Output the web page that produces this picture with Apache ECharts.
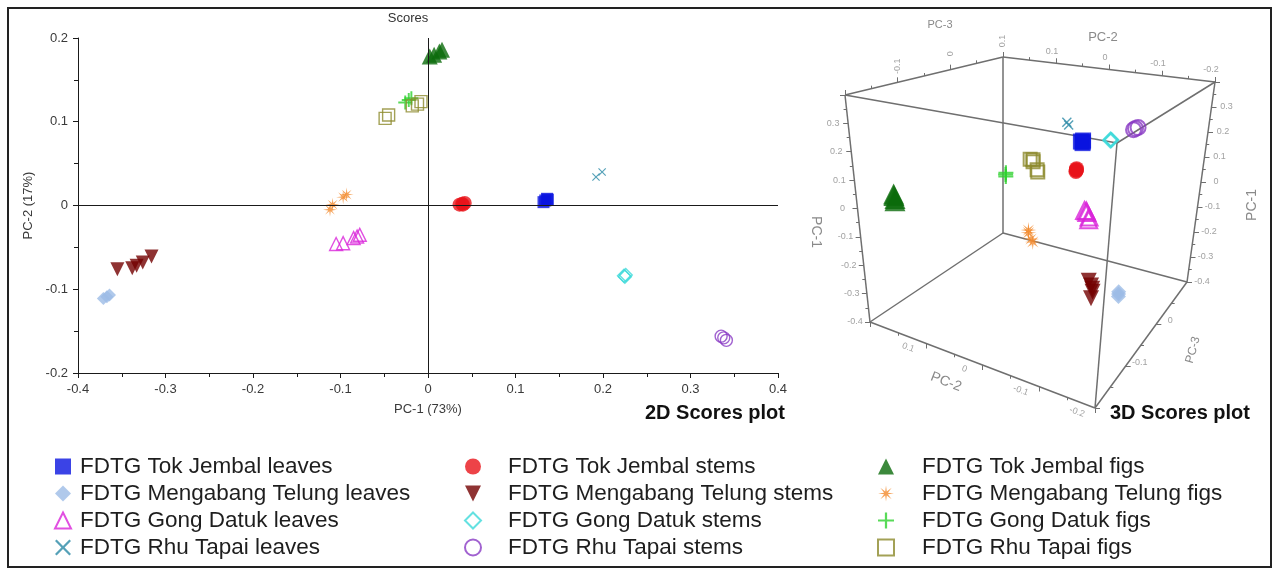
<!DOCTYPE html>
<html>
<head>
<meta charset="utf-8">
<title>2D and 3D scores plots</title>
<script src="https://cdn.jsdelivr.net/npm/echarts@6/dist/echarts.min.js"></script>
<style>
  html, body { margin: 0; padding: 0; background: #fff; }
  #chart { width: 1274px; height: 570px; }
</style>
</head>
<body>
<div id="chart"></div>
<script>
// legend order, column by column
const groupNames = [
  'FDTG Tok Jembal leaves', 'FDTG Mengabang Telung leaves', 'FDTG Gong Datuk leaves', 'FDTG Rhu Tapai leaves',
  'FDTG Tok Jembal stems', 'FDTG Mengabang Telung stems', 'FDTG Gong Datuk stems', 'FDTG Rhu Tapai stems',
  'FDTG Tok Jembal figs', 'FDTG Mengabang Telung figs', 'FDTG Gong Datuk figs', 'FDTG Rhu Tapai figs'
];

// scores of each sample: [PC-1, PC-2, PC-3]
const tjLeaves = [[0.132, 0.004, 0.052], [0.134, 0.006, 0.055], [0.136, 0.008, 0.053], [0.137, 0.007, 0.057]];
const mtLeaves = [[-0.371, -0.111, 0.016], [-0.367, -0.109, 0.019], [-0.364, -0.107, 0.022]];
const gdLeaves = [[-0.105, -0.046, 0.010], [-0.097, -0.045, 0.012], [-0.085, -0.039, 0.014], [-0.081, -0.037, 0.015], [-0.078, -0.035, 0.013]];
const rtLeaves = [[0.192, 0.034, 0.055], [0.199, 0.040, 0.058]];
const tjStems = [[0.036, 0.001, 0.035], [0.039, 0.002, 0.037], [0.042, 0.003, 0.039], [0.040, 0.001, 0.036]];
const mtStems = [[-0.355, -0.076, -0.014], [-0.338, -0.075, -0.009], [-0.333, -0.072, -0.006], [-0.326, -0.068, -0.004], [-0.316, -0.061, -0.001]];
const gdStems = [[0.224, -0.084, -0.003], [0.226, -0.083, -0.001], [0.225, -0.085, -0.002]];
const rtStems = [[0.335, -0.156, -0.062], [0.338, -0.158, -0.060], [0.341, -0.161, -0.058]];
const tjFigs = [[0.002, 0.178, -0.150], [0.007, 0.180, -0.147], [0.013, 0.184, -0.144], [0.016, 0.186, -0.142]];
const mtFigs = [[-0.112, -0.005, -0.078], [-0.109, 0.001, -0.074], [-0.097, 0.010, -0.068], [-0.093, 0.013, -0.064]];
const gdFigs = [[-0.026, 0.123, 0.022], [-0.022, 0.126, 0.025], [-0.019, 0.128, 0.028]];
const rtFigs = [[-0.049, 0.104, 0.072], [-0.045, 0.108, 0.075], [-0.018, 0.119, 0.078], [-0.012, 0.121, 0.080], [-0.008, 0.124, 0.077]];

const groupScores = [tjLeaves, mtLeaves, gdLeaves, rtLeaves, tjStems, mtStems, gdStems, rtStems, tjFigs, mtFigs, gdFigs, rtFigs];

// 3D axis ranges and tick labels
const pc1Range = [-0.4, 0.4];
const pc2Range = [-0.2, 0.2];
const pc3Range = [-0.2, 0.1];
const pc1TickLabels = [-0.4, -0.3, -0.2, -0.1, 0, 0.1, 0.2, 0.3];
const pc2TickLabels = [-0.2, -0.1, 0, 0.1];
const pc3TopLabels = [-0.1, 0, 0.1];
const pc3BottomLabels = [-0.1, 0];

const FONT = "'Liberation Sans', Arial, sans-serif";

// marker shapes
const plusPath = 'path://M4.3,0h1.4v4.3h4.3v1.4h-4.3v4.3h-1.4v-4.3h-4.3v-1.4h4.3z';
const crossPath = 'path://M0,1L1,0L5,4L9,0L10,1L6,5L10,9L9,10L5,6L1,10L0,9L4,5Z';
const downTriangle = 'path://M0,0L10,0L5,10Z';
function starPath(rays, inner) {
  const pts = [];
  for (let i = 0; i < rays * 2; i++) {
    const ang = Math.PI * i / rays - Math.PI / 2;
    const r = i % 2 === 0 ? 5 : inner;
    pts.push((5 + r * Math.cos(ang)).toFixed(2) + ',' + (5 + r * Math.sin(ang)).toFixed(2));
  }
  return 'path://M' + pts.join('L') + 'Z';
}

const groupStyles = [
  { symbol: 'rect', color: '#0a14e0', s2: 12, s3: 16 },
  { symbol: 'diamond', color: '#9cbce6', s2: 13, s3: 15 },
  { symbol: 'triangle', color: '#d924d9', open: true, s2: 13, s3: 17 },
  { symbol: crossPath, color: '#2a8aa6', s2: 8, s3: 10 },
  { symbol: 'circle', color: '#e8141a', s2: 14, s3: 15 },
  { symbol: downTriangle, color: '#730000', s2: 14, s3: 16 },
  { symbol: 'diamond', color: '#3ddada', open: true, s2: 13, s3: 14 },
  { symbol: 'circle', color: '#8a3bc4', open: true, s2: 12, s3: 15 },
  { symbol: 'triangle', color: '#0b6b0b', s2: 16, s3: 21 },
  { symbol: starPath(8, 1.3), color: '#f28a2c', s2: 14, s3: 16 },
  { symbol: plusPath, color: '#2ed12e', s2: 14, s3: 15 },
  { symbol: 'rect', color: '#8c8a2c', open: true, s2: 12, s3: 13 }
];

// 3D panel: screen corners of the box, key = a b c
// a: PC-2 high->low, b: PC-3 low->high, c: PC-1 low->high
const boxCorners = {
  '000': [870, 322], '100': [1095, 408], '010': [1003, 233], '110': [1187, 282],
  '001': [845, 95], '101': [1117, 143], '011': [1003, 57], '111': [1215, 82]
};
const boxEdges = [
  ['000', '100'], ['100', '110'], ['110', '010'], ['010', '000'],
  ['001', '101'], ['101', '111'], ['111', '011'], ['011', '001'],
  ['000', '001'], ['100', '101'], ['110', '111'], ['010', '011']
];

function project(pc1, pc2, pc3) {
  const a = (pc2Range[1] - pc2) / (pc2Range[1] - pc2Range[0]);
  const b = (pc3 - pc3Range[0]) / (pc3Range[1] - pc3Range[0]);
  const c = (pc1 - pc1Range[0]) / (pc1Range[1] - pc1Range[0]);
  let x = 0, y = 0;
  for (const k in boxCorners) {
    const w = (k[0] === '1' ? a : 1 - a) * (k[1] === '1' ? b : 1 - b) * (k[2] === '1' ? c : 1 - c);
    x += w * boxCorners[k][0];
    y += w * boxCorners[k][1];
  }
  return [x, y];
}

// the six tick-bearing edges of the box
const frameAxes = [
  { at: v => [v, 0.2, -0.2], range: pc1Range, labels: pc1TickLabels, dir: [-1, 0], off: [-15, 0], rot: 0 },
  { at: v => [v, -0.2, 0.1], range: pc1Range, labels: pc1TickLabels, dir: [1, 0], off: [15, 0], rot: 0 },
  { at: v => [0.4, v, 0.1], range: pc2Range, labels: pc2TickLabels, dir: [0, -1], off: [-4, -12], rot: 0 },
  { at: v => [-0.4, v, -0.2], range: pc2Range, labels: pc2TickLabels, dir: [0, 1], off: [-18, 4], rot: -20 },
  { at: v => [0.4, 0.2, v], range: pc3Range, labels: pc3TopLabels, dir: [0, -1], off: [0, -16], rot: 90 },
  { at: v => [-0.4, -0.2, v], range: pc3Range, labels: pc3BottomLabels, dir: [1, 0], off: [14, -3], rot: 0 }
];

const frameLines = boxEdges.map(e => ({ coords: [boxCorners[e[0]], boxCorners[e[1]]] }));
const tickLines = [];
const tickTexts = [];
frameAxes.forEach(ax => {
  for (let v = ax.range[0]; v <= ax.range[1] + 1e-9; v += 0.05) {
    const val = Math.round(v * 100) / 100;
    const p = project.apply(null, ax.at(val));
    const major = Math.abs(val * 10 - Math.round(val * 10)) < 1e-6;
    const len = major ? 5 : 3;
    tickLines.push({ coords: [p, [p[0] + ax.dir[0] * len, p[1] + ax.dir[1] * len]] });
    if (ax.labels.indexOf(val) >= 0) {
      tickTexts.push({
        name: String(val),
        value: [p[0] + ax.off[0], p[1] + ax.off[1]],
        label: { rotate: ax.rot }
      });
    }
  }
});

const series = [];

// zero lines of the 2D plot
series.push({
  type: 'scatter', xAxisIndex: 0, yAxisIndex: 0, data: [], z: 1, silent: true,
  markLine: {
    silent: true, symbol: ['none', 'none'], label: { show: false },
    lineStyle: { color: '#1a1a1a', type: 'solid', width: 1 },
    data: [{ xAxis: 0 }, { yAxis: 0 }]
  }
});

// 3D box
series.push({
  type: 'lines', coordinateSystem: 'cartesian2d', xAxisIndex: 1, yAxisIndex: 1, z: 1, silent: true,
  lineStyle: { color: '#6f6f6f', width: 1.5, opacity: 1 },
  data: frameLines
});
series.push({
  type: 'lines', coordinateSystem: 'cartesian2d', xAxisIndex: 1, yAxisIndex: 1, z: 1, silent: true,
  lineStyle: { color: '#6f6f6f', width: 1, opacity: 1 },
  data: tickLines
});
series.push({
  type: 'scatter', xAxisIndex: 1, yAxisIndex: 1, symbolSize: 0, z: 1, silent: true,
  label: { show: true, position: 'inside', formatter: '{b}', color: '#8a8a8a', fontSize: 9, fontFamily: FONT },
  data: tickTexts
});

groupNames.forEach((name, i) => {
  const st = groupStyles[i];
  const pts = groupScores[i];
  const style = st.open
    ? { color: 'rgba(255,255,255,0)', borderColor: st.color, borderWidth: 1.4 }
    : { color: st.color };
  series.push({
    type: 'scatter', name: name, xAxisIndex: 0, yAxisIndex: 0, z: 3,
    symbol: st.symbol, symbolSize: st.s2,
    itemStyle: style,
    data: pts.map(p => [p[0], p[1]])
  });
  series.push({
    type: 'scatter', name: name, xAxisIndex: 1, yAxisIndex: 1, z: 3,
    symbol: st.symbol, symbolSize: st.s3,
    itemStyle: st.open ? Object.assign({}, style, { borderWidth: 2 }) : style,
    data: pts.map(p => project(p[0], p[1], p[2]))
  });
});

// legend columns: icon left edge and gap before the text
const legendLeft = [49, 459, 872];
const legendTextPad = [4, 22, 23];
const legends = [0, 1, 2].map(col => ({
  orient: 'vertical', left: legendLeft[col], top: 450,
  itemWidth: 16, itemHeight: 16, itemGap: 4,
  selectedMode: false,
  data: groupNames.slice(col * 4, col * 4 + 4),
  textStyle: { fontSize: 22.5, lineHeight: 22, color: '#1e1e1e', fontFamily: FONT, padding: [0, 0, 0, legendTextPad[col]] }
}));

const axisColor = '#1a1a1a';
const option = {
  animation: false,
  textStyle: { fontFamily: FONT },
  grid: [
    { left: 78, top: 38, width: 700, height: 335, outerBoundsMode: 'none' },
    { left: 0, top: 0, width: 1274, height: 570, outerBoundsMode: 'none' }
  ],
  xAxis: [
    {
      gridIndex: 0, type: 'value', min: -0.4, max: 0.4, interval: 0.1,
      name: 'PC-1 (73%)', nameLocation: 'middle', nameGap: 30,
      nameTextStyle: { color: '#3a3a3a', fontSize: 13 },
      axisLine: { show: true, onZero: false, lineStyle: { color: axisColor } },
      axisTick: { show: true, length: 5, lineStyle: { color: axisColor } },
      minorTick: { show: true, splitNumber: 2, length: 4, lineStyle: { color: axisColor } },
      axisLabel: { color: '#3a3a3a', fontSize: 13, margin: 10 },
      splitLine: { show: false }
    },
    { gridIndex: 1, type: 'value', min: 0, max: 1274, show: false }
  ],
  yAxis: [
    {
      gridIndex: 0, type: 'value', min: -0.2, max: 0.2, interval: 0.1,
      name: 'PC-2 (17%)', nameLocation: 'middle', nameGap: 32, nameRotate: 90,
      nameTextStyle: { color: '#3a3a3a', fontSize: 13 },
      axisLine: { show: true, onZero: false, lineStyle: { color: axisColor } },
      axisTick: { show: true, length: 5, lineStyle: { color: axisColor } },
      minorTick: { show: true, splitNumber: 2, length: 4, lineStyle: { color: axisColor } },
      axisLabel: { color: '#3a3a3a', fontSize: 13, margin: 10 },
      splitLine: { show: false }
    },
    { gridIndex: 1, type: 'value', min: 0, max: 570, inverse: true, show: false }
  ],
  legend: legends,
  graphic: [
    { type: 'rect', shape: { x: 8, y: 8, width: 1263, height: 559 }, style: { fill: 'none', stroke: '#222', lineWidth: 2 }, z: 0 },
    { type: 'text', x: 408, y: 18, style: { text: 'Scores', fill: '#333', font: '13px ' + FONT, align: 'center', verticalAlign: 'middle' } },
    { type: 'text', x: 785, y: 413, style: { text: '2D Scores plot', fill: '#111', font: 'bold 20px ' + FONT, align: 'right', verticalAlign: 'middle' } },
    { type: 'text', x: 1250, y: 413, style: { text: '3D Scores plot', fill: '#111', font: 'bold 20px ' + FONT, align: 'right', verticalAlign: 'middle' } },
    { type: 'text', x: 940, y: 25, style: { text: 'PC-3', fill: '#8a8a8a', font: '11px ' + FONT, align: 'center', verticalAlign: 'middle' } },
    { type: 'text', x: 1103, y: 37, style: { text: 'PC-2', fill: '#8a8a8a', font: '13px ' + FONT, align: 'center', verticalAlign: 'middle' } },
    { type: 'text', x: 816, y: 232, rotation: -Math.PI / 2, style: { text: 'PC-1', fill: '#8a8a8a', font: '14px ' + FONT, align: 'center', verticalAlign: 'middle' } },
    { type: 'text', x: 1252, y: 205, rotation: Math.PI / 2, style: { text: 'PC-1', fill: '#8a8a8a', font: '14px ' + FONT, align: 'center', verticalAlign: 'middle' } },
    { type: 'text', x: 946, y: 382, rotation: -0.37, style: { text: 'PC-2', fill: '#8a8a8a', font: '14px ' + FONT, align: 'center', verticalAlign: 'middle' } },
    { type: 'text', x: 1193, y: 350, rotation: 1.3, style: { text: 'PC-3', fill: '#8a8a8a', font: '12px ' + FONT, align: 'center', verticalAlign: 'middle' } }
  ],
  series: series
};

const chart = echarts.init(document.getElementById('chart'));
chart.setOption(option);
</script>
</body>
</html>
